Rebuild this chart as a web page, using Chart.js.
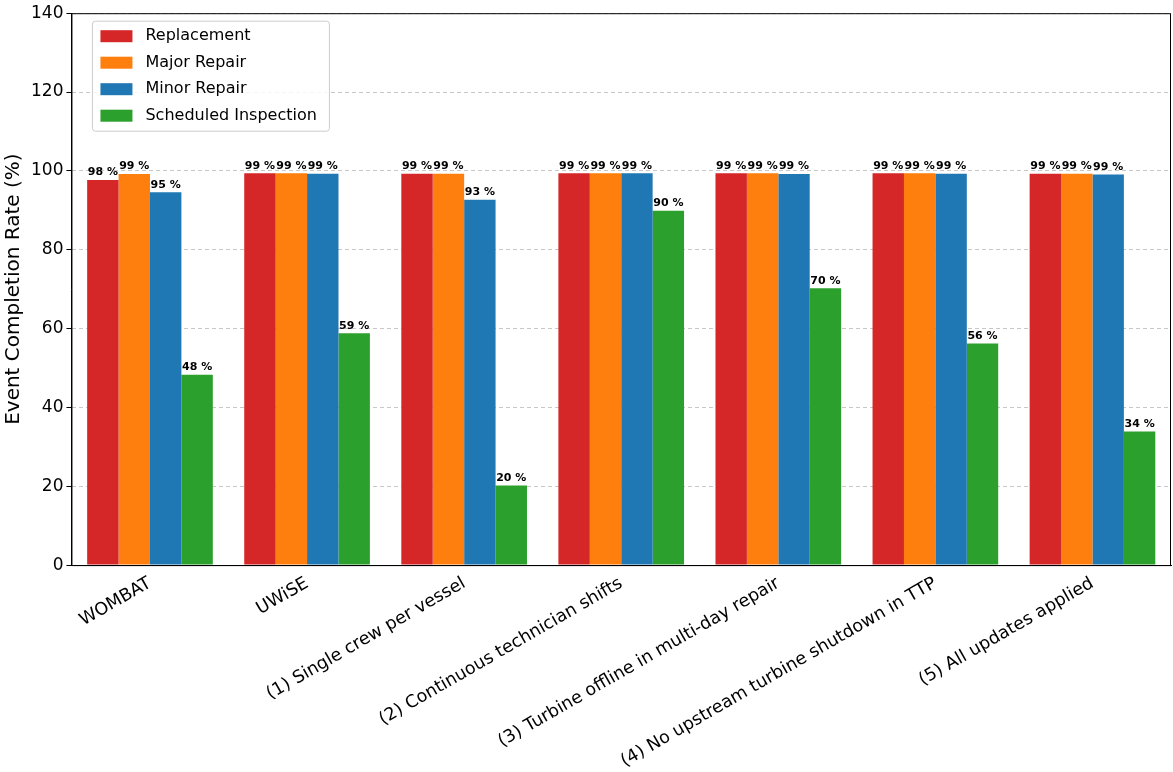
<!DOCTYPE html>
<html><head><meta charset="utf-8">
<script src="https://cdn.jsdelivr.net/npm/chart.js@4"></script>
<style>body{margin:0;background:#fff}#wrap{width:1173px;height:772px}</style>
</head><body><div id="wrap"><canvas id="c"></canvas></div>
<script>
const categories = ["WOMBAT", "UWiSE", "(1) Single crew per vessel", "(2) Continuous technician shifts",
  "(3) Turbine offline in multi-day repair", "(4) No upstream turbine shutdown in TTP", "(5) All updates applied"]
const replacement = [97.7, 99.4, 99.3, 99.4, 99.4, 99.4, 99.3]
const majorRepair = [99.2, 99.4, 99.3, 99.4, 99.4, 99.4, 99.3]
const minorRepair = [94.6, 99.3, 92.7, 99.4, 99.2, 99.3, 99.1]
const scheduled = [48.3, 58.8, 20.2, 89.9, 70.2, 56.2, 33.9]
const seriesNames = ["Replacement", "Major Repair", "Minor Repair", "Scheduled Inspection"]
const colors = ["#d62728", "#ff7f0e", "#1f77b4", "#2ca02c"]
const font = "DejaVu Sans"

const extras = {
  id: "extras",
  afterDatasetsDraw(chart) {
    const ctx = chart.ctx
    ctx.save()
    ctx.font = "bold 11px " + font
    ctx.fillStyle = "#000"
    ctx.textAlign = "center"
    ctx.textBaseline = "bottom"
    chart.data.datasets.forEach((ds, i) => {
      chart.getDatasetMeta(i).data.forEach((bar, j) => {
        ctx.fillText(Math.round(ds.data[j]) + " %", bar.x, bar.y - 2)
      })
    })
    const a = chart.chartArea
    ctx.strokeStyle = "#000"
    ctx.lineWidth = 1
    ctx.strokeRect(a.left + 0.5, a.top + 0.5, a.right - a.left - 1, a.bottom - a.top)
    // legend
    const lx = a.left + 21, ly = a.top + 8
    ctx.fillStyle = "rgba(255,255,255,0.8)"
    ctx.strokeStyle = "#ccc"
    ctx.beginPath()
    ctx.roundRect(lx, ly, 237, 110, 3)
    ctx.fill(); ctx.stroke()
    ctx.font = "16px " + font
    ctx.textAlign = "left"
    ctx.textBaseline = "middle"
    seriesNames.forEach((n, i) => {
      const y = ly + 15 + i * 26.5
      ctx.fillStyle = colors[i]
      ctx.fillRect(lx + 8, y - 6, 32, 12)
      ctx.fillStyle = "#000"
      ctx.fillText(n, lx + 53, y)
    })
    ctx.restore()
  }
}

new Chart(document.getElementById("c"), {
  type: "bar",
  data: {
    labels: categories,
    datasets: [replacement, majorRepair, minorRepair, scheduled].map((d, i) => ({
      label: seriesNames[i], data: d, backgroundColor: colors[i],
      categoryPercentage: 0.8, barPercentage: 1
    }))
  },
  options: {
    responsive: true, maintainAspectRatio: false, animation: false,
    layout: { padding: { top: 0, right: 2, left: 0 } },
    plugins: { legend: { display: false }, tooltip: { enabled: false } },
    scales: {
      x: {
        grid: { display: false, drawTicks: true },
        border: { color: "#000" },
        ticks: { color: "#000", font: { family: font, size: 17.5 }, maxRotation: 30, minRotation: 30, autoSkip: false, padding: 0 }
      },
      y: {
        min: 0, max: 140,
        grid: { color: "#c8c8c8", tickColor: "#000", tickLength: 5 },
        border: { color: "#000", dash: [4, 3] },
        ticks: { stepSize: 20, color: "#000", font: { family: font, size: 17 } },
        title: { display: true, text: "Event Completion Rate (%)", color: "#000", font: { family: font, size: 20 }, padding: 2 }
      }
    }
  },
  plugins: [extras]
})
</script></body></html>
